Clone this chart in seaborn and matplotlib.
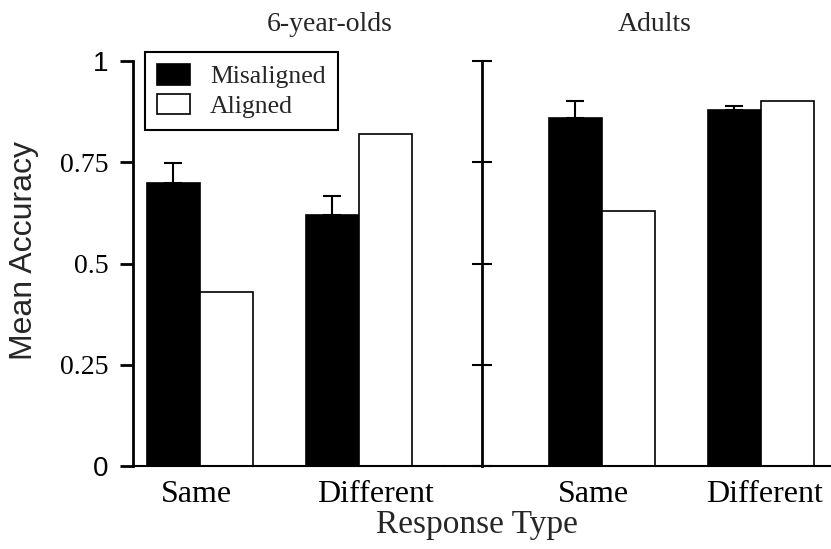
import numpy as np
import pandas as pd
import matplotlib
matplotlib.use("Agg")
import matplotlib.pyplot as plt
from matplotlib.container import BarContainer
from matplotlib.transforms import ScaledTranslation
import seaborn as sns

# ---------------- data ----------------
groups = ["6-year-olds", "Adults"]
responses = ["Same", "Different"]
alignments = ["Misaligned", "Aligned"]
child_misaligned = [0.70, 0.62]
child_aligned = [0.43, 0.82]
adult_misaligned = [0.86, 0.88]
adult_aligned = [0.63, 0.90]
child_misaligned_err = [0.047, 0.046]
adult_misaligned_err = [0.042, 0.010]
y_ticks = [0, 0.25, 0.5, 0.75, 1]
y_tick_labels = ["0", "0.25", "0.5", "0.75", "1"]

rows = []
for g, mis, ali, err in [(groups[0], child_misaligned, child_aligned, child_misaligned_err),
                         (groups[1], adult_misaligned, adult_aligned, adult_misaligned_err)]:
    for r, m, a, e in zip(responses, mis, ali, err):
        rows.append(dict(Group=g, Response=r, Alignment="Misaligned", Accuracy=m, Err=e))
        rows.append(dict(Group=g, Response=r, Alignment="Aligned", Accuracy=a, Err=0.0))
df = pd.DataFrame(rows)

# ---------------- style ----------------
sns.set_style("ticks")
plt.rcParams["font.family"] = ["Liberation Serif", "DejaVu Serif"]
plt.rcParams["axes.edgecolor"] = "black"
plt.rcParams["xtick.color"] = "black"
plt.rcParams["ytick.color"] = "black"

fig = plt.figure(figsize=(8.31, 5.49), dpi=100)
fig.patch.set_facecolor("white")
ax1 = fig.add_axes([133 / 831, 83 / 549, 312 / 831, 405 / 549])
ax2 = fig.add_axes([445 / 831, 83 / 549, 385 / 831, 405 / 549], sharey=ax1)

palette = {"Misaligned": "black", "Aligned": "white"}

for i, (ax, g) in enumerate(zip([ax1, ax2], groups)):
    sub = df[df["Group"] == g]
    sns.barplot(data=sub, x="Response", y="Accuracy", hue="Alignment",
                order=responses, hue_order=alignments, palette=palette,
                edgecolor="black", linewidth=1.2, width=0.667, errorbar=None,
                saturation=1, ax=ax, legend=(i == 0))
    bars = [c for c in ax.containers if isinstance(c, BarContainer)]
    for cont, lab in zip(bars, alignments):
        if lab != "Misaligned":
            continue
        xs = [p.get_x() + p.get_width() / 2 for p in cont]
        ys = [p.get_height() for p in cont]
        errs = sub[sub["Alignment"] == lab].set_index("Response").loc[responses, "Err"].values
        ax.errorbar(xs, ys, yerr=[np.zeros(len(errs)), errs], fmt="none",
                    ecolor="black", elinewidth=1.5, capsize=6.5, capthick=1.5)
    ax.set_xlabel("")
    ax.set_ylabel("")
    for s in ["top", "right"]:
        ax.spines[s].set_visible(False)
    ax.spines["left"].set_linewidth(2)
    ax.spines["bottom"].set_linewidth(1.5)
    ax.tick_params(axis="x", length=0, pad=10, labelsize=23)

ax1.set_xlim(-0.421, 1.541)
ax2.set_xlim(-0.987, 1.434)
ax1.set_ylim(0, 1)
ax1.set_yticks(y_ticks)
ax1.set_yticklabels(y_tick_labels)
ax1.tick_params(axis="y", direction="out", length=9.5, width=2, pad=8, labelsize=20)
for t in ax1.get_yticklabels():
    if t.get_text() in ("0", "1"):
        t.set_fontfamily(["Liberation Sans", "DejaVu Sans"])

ax2.spines["left"].set_position(("axes", 0.096))
ax2.tick_params(axis="y", direction="inout", length=15, width=1.5, labelleft=False)

# small horizontal nudges of category labels (pixels)
for ax, shifts in [(ax1, [-4, 17]), (ax2, [-9, 4])]:
    for t, dx in zip(ax.get_xticklabels(), shifts):
        t.set_transform(t.get_transform() + ScaledTranslation(dx / 100, 0, fig.dpi_scale_trans))

# titles
ax1.set_title(groups[0], x=0.631, pad=21.6, fontsize=20)
ax2.set_title(groups[1], x=0.545, pad=21.6, fontsize=20)

# axis labels
ax1.set_ylabel("Mean Accuracy", fontfamily=["Liberation Sans", "DejaVu Sans"], fontsize=23)
ax1.yaxis.set_label_coords(-0.30, 0.533)
fig.text(477 / 831, 1 - 525 / 549, "Response Type", ha="center", va="center", fontsize=24)

# legend
handles, labels = ax1.get_legend_handles_labels()
leg = ax1.legend(handles, labels, loc="upper left", bbox_to_anchor=(0.038, 1.022),
                 frameon=True, fancybox=False, edgecolor="black", framealpha=1,
                 fontsize=18.5, handlelength=1.28, handleheight=0.86, handletextpad=0.78,
                 borderpad=0.47, labelspacing=0.2, borderaxespad=0)
leg.get_frame().set_linewidth(1.5)

fig.savefig("out.png", dpi=100, facecolor="white")
